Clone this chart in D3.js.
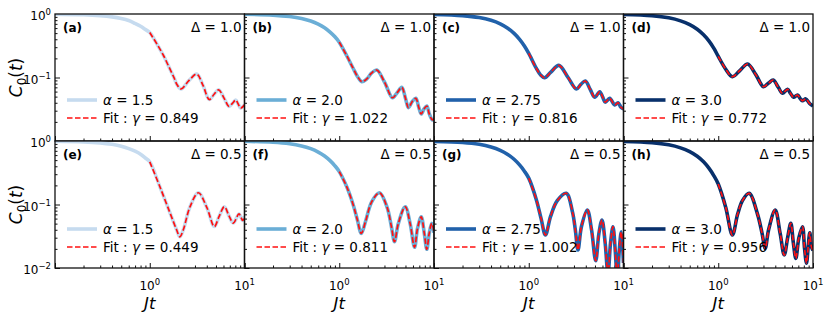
<!DOCTYPE html>
<meta charset="utf-8">
<style>
    body { margin: 0; background: #fff; }
    svg { font-family: "DejaVu Sans", sans-serif; }
    .spine { fill: none; stroke: #111; stroke-width: 1.3px; }
    .tick line { stroke: #111; stroke-width: 1px; }
    .axis path { display: none; }
</style>
<svg width="831" height="316"></svg>
<script src="https://d3js.org/d3.v7.min.js"></script>
<script>
    // --- data ---
    const alphas = [1.5, 2.0, 2.75, 3.0];
    const deltas = [1.0, 0.5];
    const gammas = [[0.849, 1.022, 0.816, 0.772], [0.449, 0.811, 1.002, 0.956]];
    const letters = [["a", "b", "c", "d"], ["e", "f", "g", "h"]];
    const colors = ["#c6dbef", "#6baed6", "#2161aa", "#08306b"];
    const fitStart = 1.0;

    // (a) alpha 1.5, Delta 1.0
    const tA = [0.1, 0.2, 0.3, 0.4, 0.5, 0.6, 0.7, 0.8, 0.9, 1.0, 1.2, 1.4, 1.6, 1.8, 1.95, 2.14, 2.6, 3.13, 3.65, 4.25, 4.8, 5.34, 6.1, 6.86, 7.45, 8.07, 8.6, 9.1, 10];
    const cA = [0.993, 0.973, 0.94, 0.9, 0.85, 0.79, 0.71, 0.64, 0.57, 0.51, 0.33, 0.22, 0.145, 0.1, 0.076, 0.066, 0.09, 0.113, 0.075, 0.045, 0.055, 0.064, 0.047, 0.035, 0.039, 0.044, 0.038, 0.033, 0.037];
    // (b) alpha 2.0, Delta 1.0
    const tB = [0.1, 0.2, 0.3, 0.4, 0.5, 0.6, 0.7, 0.8, 0.9, 1.0, 1.2, 1.4, 1.55, 1.73, 1.95, 2.2, 2.49, 3.0, 3.65, 4.1, 4.57, 5.0, 5.38, 5.9, 6.43, 6.9, 7.33, 7.85, 8.4, 8.9, 9.6, 10];
    const cB = [0.99, 0.96, 0.912, 0.85, 0.775, 0.693, 0.607, 0.52, 0.438, 0.36, 0.22, 0.14, 0.105, 0.086, 0.095, 0.118, 0.131, 0.085, 0.048, 0.058, 0.07, 0.047, 0.0335, 0.042, 0.047, 0.034, 0.0266, 0.032, 0.0356, 0.027, 0.0215, 0.023];
    // (c) alpha 2.75, Delta 1.0
    const tC = [0.1, 0.2, 0.3, 0.4, 0.5, 0.6, 0.7, 0.8, 0.9, 1.0, 1.2, 1.33, 1.47, 1.7, 2.08, 2.6, 3.18, 3.55, 3.95, 4.45, 4.97, 5.61, 6.0, 6.43, 7.15, 8.07, 8.75, 9.4, 10];
    const cC = [0.986, 0.944, 0.88, 0.796, 0.7, 0.598, 0.496, 0.4, 0.314, 0.24, 0.14, 0.11, 0.099, 0.12, 0.155, 0.1, 0.066, 0.078, 0.088, 0.065, 0.0488, 0.0598, 0.05, 0.041, 0.047, 0.037, 0.04, 0.034, 0.032];
    // (d) alpha 3.0, Delta 1.0
    const tD = [0.1, 0.2, 0.3, 0.4, 0.5, 0.6, 0.7, 0.8, 0.9, 1.0, 1.2, 1.41, 1.7, 2.04, 2.5, 3.0, 3.4, 3.8, 4.3, 4.76, 5.38, 5.8, 6.23, 6.86, 7.3, 7.74, 8.4, 9.2, 10];
    const cD = [0.985, 0.94, 0.87, 0.78, 0.68, 0.575, 0.47, 0.373, 0.287, 0.215, 0.135, 0.103, 0.13, 0.163, 0.11, 0.0717, 0.082, 0.091, 0.07, 0.0564, 0.065, 0.056, 0.0488, 0.053, 0.047, 0.043, 0.046, 0.039, 0.0356];
    // (e) alpha 1.5, Delta 0.5
    const tE = [0.1, 0.2, 0.3, 0.4, 0.5, 0.6, 0.7, 0.8, 0.9, 1.0, 1.28, 1.64, 1.92, 2.08, 2.26, 2.66, 3.26, 4.0, 4.8, 5.4, 6.12, 6.9, 7.62, 8.75, 9.56, 10];
    const cE = [0.992, 0.97, 0.934, 0.886, 0.83, 0.76, 0.69, 0.62, 0.54, 0.47, 0.19, 0.073, 0.04, 0.031, 0.04, 0.092, 0.153, 0.09, 0.045, 0.065, 0.092, 0.065, 0.051, 0.071, 0.056, 0.065];
    // (f) alpha 2.0, Delta 0.5
    const tF = [0.1, 0.2, 0.3, 0.4, 0.5, 0.6, 0.7, 0.8, 0.9, 1.0, 1.2, 1.4, 1.55, 1.71, 1.9, 2.2, 2.66, 3.2, 3.55, 3.83, 4.2, 4.97, 5.6, 6.23, 6.7, 7.33, 7.9, 8.4, 8.9, 9.48, 10];
    const cF = [0.989, 0.956, 0.905, 0.837, 0.758, 0.67, 0.58, 0.49, 0.407, 0.33, 0.19, 0.1, 0.058, 0.035, 0.055, 0.11, 0.153, 0.09, 0.045, 0.026, 0.05, 0.092, 0.05, 0.0212, 0.042, 0.064, 0.035, 0.0197, 0.035, 0.0506, 0.036];
    // (g) alpha 2.75, Delta 0.5
    const tG = [0.1, 0.2, 0.3, 0.4, 0.5, 0.6, 0.7, 0.8, 0.9, 1.0, 1.2, 1.35, 1.5, 1.7, 2.0, 2.49, 2.9, 3.1, 3.31, 3.6, 4.15, 4.6, 5.09, 5.5, 5.93, 6.4, 6.86, 7.3, 7.74, 8.2, 8.6, 9.0, 9.48, 10];
    const cG = [0.987, 0.947, 0.886, 0.806, 0.714, 0.615, 0.516, 0.42, 0.335, 0.26, 0.12, 0.06, 0.033, 0.065, 0.115, 0.15, 0.075, 0.04, 0.0192, 0.045, 0.082, 0.04, 0.013, 0.035, 0.057, 0.025, 0.008, 0.025, 0.0447, 0.018, 0.006, 0.018, 0.037, 0.012];
    // (h) alpha 3.0, Delta 0.5
    const tH = [0.1, 0.2, 0.3, 0.4, 0.5, 0.6, 0.7, 0.8, 0.9, 1.0, 1.2, 1.41, 1.6, 1.8, 2.12, 2.6, 2.9, 3.13, 3.4, 3.99, 4.5, 4.97, 5.4, 5.83, 6.2, 6.59, 7.1, 7.74, 8.15, 8.54, 8.9, 9.25, 9.6, 10];
    const cH = [0.985, 0.94, 0.87, 0.78, 0.68, 0.574, 0.47, 0.37, 0.283, 0.21, 0.09, 0.033, 0.07, 0.115, 0.15, 0.07, 0.035, 0.0204, 0.04, 0.082, 0.035, 0.016, 0.03, 0.0506, 0.025, 0.0142, 0.03, 0.0447, 0.02, 0.0119, 0.022, 0.036, 0.022, 0.019];

    const series = [[[tA, cA], [tB, cB], [tC, cC], [tD, cD]],
                    [[tE, cE], [tF, cF], [tG, cG], [tH, cH]]];

    const xMajor = [1, 10];
    const yMajor = [[1, 0.1], [1, 0.1, 0.01]];

    // --- layout ---
    var svg = d3.select("svg"),
        margin = { left: 55, top: 14 },
        pw = 189.5, ph = 127;

    var x = d3.scaleLog().domain([0.1, 10]).range([0, pw]),
        y = d3.scaleLog().domain([0.01, 1]).range([ph, 0]);

    var minorX = [], minorY = [];
    [0.1, 1].forEach(function(b) { for (var k = 2; k <= 9; k++) minorX.push(b * k); });
    [0.01, 0.1].forEach(function(b) { for (var k = 2; k <= 9; k++) minorY.push(b * k); });

    var line = d3.line()
        .x(function(d) { return x(d[0]); })
        .y(function(d) { return y(d[1]); })
        .curve(d3.curveCatmullRom.alpha(0.5));

    function supLabel(sel, base, exp) {
        sel.append("tspan").text(base);
        sel.append("tspan").attr("dy", -5).style("font-size", "8.5px").text(exp);
    }

    series.forEach(function(row, r) {
        row.forEach(function(pair, c) {
            var ox = margin.left + c * pw, oy = margin.top + r * ph;
            var g = svg.append("g").attr("transform", "translate(" + ox + "," + oy + ")");
            var pts = pair[0].map(function(t, i) { return [t, pair[1][i]]; });
            var fitPts = pts.filter(function(d) { return d[0] >= fitStart; });

            var clipId = "clip" + r + c;
            g.append("clipPath").attr("id", clipId)
                .append("rect").attr("width", pw).attr("height", ph);

            // ticks (inward, left and bottom)
            g.append("g").attr("class", "axis")
                .call(d3.axisLeft(y).tickValues([1, 0.1, 0.01]).tickSize(-5).tickFormat(""));
            g.append("g").attr("class", "axis")
                .call(d3.axisLeft(y).tickValues(minorY).tickSize(-2.5).tickFormat(""));
            g.append("g").attr("class", "axis").attr("transform", "translate(0," + ph + ")")
                .call(d3.axisBottom(x).tickValues([0.1, 1, 10]).tickSize(-5).tickFormat(""));
            g.append("g").attr("class", "axis").attr("transform", "translate(0," + ph + ")")
                .call(d3.axisBottom(x).tickValues(minorX).tickSize(-2.5).tickFormat(""));

            var plot = g.append("g").attr("clip-path", "url(#" + clipId + ")");
            plot.append("path")
                .attr("d", line(pts))
                .attr("fill", "none")
                .attr("stroke", colors[c])
                .attr("stroke-width", 3.6);
            plot.append("path")
                .attr("d", line(fitPts))
                .attr("fill", "none")
                .attr("stroke", "#ff1010")
                .attr("stroke-width", 1.7)
                .attr("stroke-dasharray", "5.5,2.5");

            g.append("rect").attr("class", "spine").attr("width", pw).attr("height", ph);

            // panel tag and Delta
            g.append("text").attr("x", 8).attr("y", 17.5)
                .style("font-size", "12px").style("font-weight", "bold")
                .text("(" + letters[r][c] + ")");
            g.append("text").attr("x", pw - 3).attr("y", 17.5)
                .attr("text-anchor", "end").style("font-size", "13.5px")
                .text("\u0394 = " + deltas[r].toFixed(1));

            // legend
            var ly1 = 86 + r * 2, ly2 = 104 + r * 2;
            g.append("line").attr("x1", 12).attr("x2", 42).attr("y1", ly1).attr("y2", ly1)
                .attr("stroke", colors[c]).attr("stroke-width", 3.6);
            g.append("line").attr("x1", 12).attr("x2", 42).attr("y1", ly2).attr("y2", ly2)
                .attr("stroke", "#ff1010").attr("stroke-width", 1.7).attr("stroke-dasharray", "5.5,2.5");
            var t1 = g.append("text").attr("x", 48).attr("y", ly1 + 5).style("font-size", "13.5px");
            t1.append("tspan").style("font-style", "italic").text("\u03b1");
            t1.append("tspan").text(" = " + (alphas[c] === 2.75 ? "2.75" : alphas[c].toFixed(1)));
            var t2 = g.append("text").attr("x", 48).attr("y", ly2 + 5).style("font-size", "13.5px");
            t2.append("tspan").text("Fit : ");
            t2.append("tspan").style("font-style", "italic").text("\u03b3");
            t2.append("tspan").text(" = " + gammas[r][c].toFixed(3));

            // y tick labels on first column
            if (c === 0) {
                yMajor[r].forEach(function(v) {
                    var e = Math.round(Math.log10(v));
                    var tx = g.append("text").attr("x", -4).attr("y", y(v) + 6)
                        .attr("text-anchor", "end").style("font-size", "12px");
                    supLabel(tx, "10", e === 0 ? "0" : "\u2212" + (-e));
                });
                g.append("text")
                    .attr("transform", "translate(-33," + (ph / 2) + ") rotate(-90)")
                    .attr("text-anchor", "middle").style("font-size", "17px")
                    .call(function(s) {
                        s.append("tspan").style("font-style", "italic").text("C");
                        s.append("tspan").attr("dy", 4).style("font-size", "12px").text("0");
                        s.append("tspan").attr("dy", -4).text("(");
                        s.append("tspan").style("font-style", "italic").text("t");
                        s.append("tspan").text(")");
                    });
            }

            // x tick labels on bottom row
            if (r === 1) {
                xMajor.forEach(function(v) {
                    var tx = g.append("text").attr("x", x(v)).attr("y", ph + 22)
                        .attr("text-anchor", "middle").style("font-size", "12px");
                    supLabel(tx, "10", String(Math.round(Math.log10(v))));
                });
                g.append("text").attr("x", pw / 2).attr("y", ph + 41)
                    .attr("text-anchor", "middle").style("font-size", "16.5px")
                    .style("font-style", "italic").text("Jt");
            }
        });
    });
</script>
